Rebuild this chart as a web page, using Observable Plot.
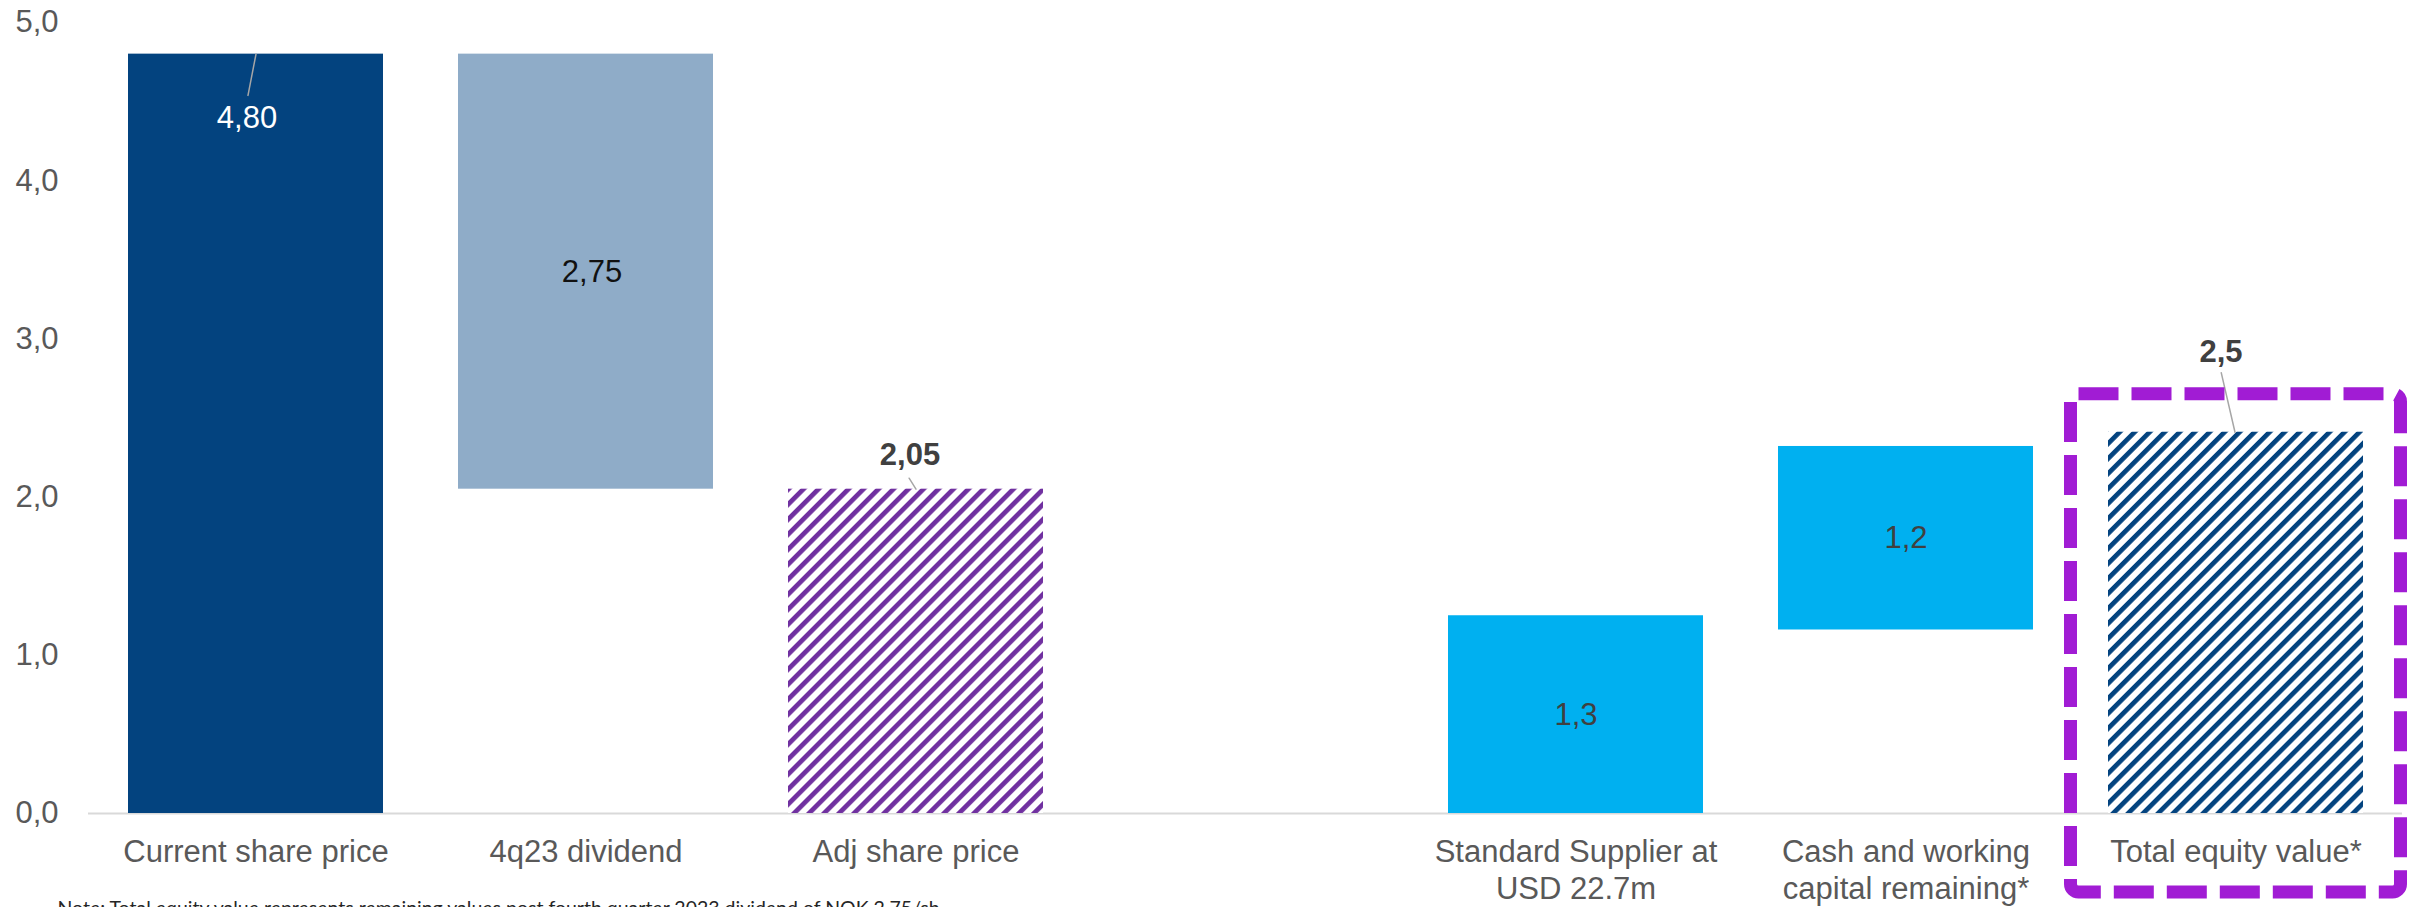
<!DOCTYPE html>
<html>
<head>
<meta charset="utf-8">
<script src="https://cdn.jsdelivr.net/npm/d3@7"></script>
<script src="https://cdn.jsdelivr.net/npm/@observablehq/plot@0.6"></script>
<style>
  html, body { margin: 0; padding: 0; background: #ffffff; }
  svg { overflow: visible; }
</style>
</head>
<body>
<div id="chart"></div>
<script>
// ---- data ----
const categories = [
  "Current share price",
  "4q23 dividend",
  "Adj share price",
  "",
  "Standard Supplier at\nUSD 22.7m",
  "Cash and working\ncapital remaining*",
  "Total equity value*"
];
const barCategories = [
  "Current share price",
  "4q23 dividend",
  "Adj share price",
  "Standard Supplier at\nUSD 22.7m",
  "Cash and working\ncapital remaining*",
  "Total equity value*"
];
const barStarts = [0, 2.05, 0, 0, 1.16, 0];
const barEnds   = [4.80, 4.80, 2.05, 1.25, 2.32, 2.41];
const barLabels = ["4,80", "2,75", "2,05", "1,3", "1,2", "2,5"];
const yTicks = [0, 1, 2, 3, 4, 5];
const yTickLabels = ["0,0", "1,0", "2,0", "3,0", "4,0", "5,0"];
const highlightCategory = "Total equity value*";
const highlightSpan = [-0.5, 2.65];
const noteText = "Note: Total equity value represents remaining values post fourth quarter 2023 dividend of NOK 2.75/sh";

// ---- styles ----
const FONT = "'Liberation Sans', Arial, sans-serif";
const barFills = ["#03437F", "#8FACC8", "url(#hatchPurple)", "#00B0F0", "#00B0F0", "url(#hatchNavy)"];
// label placement: anchor at bar "top" or "mid", pixel offsets
const labelStyle = [
  {at: "top", dx: -9, dy: 64, fill: "#ffffff", weight: "normal"},
  {at: "mid", dx: 6, dy: 0, fill: "#111111", weight: "normal"},
  {at: "top", dx: -6, dy: -34, fill: "#404040", weight: "bold"},
  {at: "mid", dx: 0, dy: 0, fill: "#404040", weight: "normal"},
  {at: "mid", dx: 0, dy: 0, fill: "#404040", weight: "normal"},
  {at: "top", dx: -15, dy: -80, fill: "#404040", weight: "bold"}
];
// leader lines from bar tops (index, rotate deg, length px, dx)
const leaderStyle = [
  {i: 0, rotate: 191, length: 42, dx: 0},
  {i: 2, rotate: -32, length: 13, dx: 0},
  {i: 5, rotate: -13, length: 61, dx: -1}
];

const bars = barCategories.map((c, i) => ({cat: c, y1: barStarts[i], y2: barEnds[i], fill: barFills[i]}));
const labels = barCategories.map((c, i) => {
  const s = labelStyle[i];
  return {cat: c, text: barLabels[i], y: s.at === "top" ? barEnds[i] : (barStarts[i] + barEnds[i]) / 2, ...s};
});

const lineShape = {draw(context, l) { context.moveTo(0, 0); context.lineTo(0, -l); }};

const marks = [
  Plot.ruleY([0], {stroke: "#D9D9D9", strokeWidth: 2}),
  Plot.barY(bars, {x: "cat", y1: "y1", y2: "y2", fill: d => d.fill}),
  ...leaderStyle.map(s => Plot.vector([bars[s.i]], {
    x: "cat", y: "y2", rotate: s.rotate, length: s.length, anchor: "start",
    shape: lineShape, r: 0, stroke: "#A6A6A6", strokeWidth: 1.5, dx: s.dx
  })),
  ...labels.map(l => Plot.text([l], {
    x: "cat", y: "y", text: "text", dx: l.dx, dy: l.dy, fill: l.fill,
    fontWeight: l.weight, fontSize: 31, fontFamily: FONT
  })),
  // y tick labels
  Plot.text(yTicks, {
    y: d => d, text: (d, i) => yTickLabels[i], frameAnchor: "left", textAnchor: "end",
    dx: -30, fontSize: 31, fill: "#595959", fontFamily: FONT
  }),
  // category labels
  Plot.text(barCategories, {
    x: d => d, text: d => d, frameAnchor: "bottom", lineAnchor: "top", dy: 22,
    fontSize: 31, lineHeight: 1.2, fill: "#595959", fontFamily: FONT
  }),
  // highlight box
  Plot.barY([highlightCategory], {
    x: d => d, y1: highlightSpan[0], y2: highlightSpan[1],
    insetLeft: -37.5, insetRight: -37.5, fill: "none", stroke: "#A11CD4",
    strokeWidth: 13, strokeDasharray: "40 13", rx: 8
  }),
  // note
  Plot.text([noteText], {
    text: d => d, frameAnchor: "bottom-left", textAnchor: "start", lineAnchor: "top",
    dx: -31, dy: 88, fontSize: 19.5, fill: "#262626", fontFamily: "Lato, 'Open Sans', sans-serif"
  })
];

const chart = Plot.plot({
  width: 2417,
  height: 907,
  marginTop: 22,
  marginBottom: 94,
  marginLeft: 88,
  marginRight: 15,
  style: {fontFamily: FONT, background: "#ffffff", overflow: "visible"},
  x: {type: "band", domain: categories, paddingInner: 0.228, paddingOuter: 0.114, axis: null},
  y: {domain: [0, 5], axis: null},
  marks
});

const svg = chart.tagName.toLowerCase() === "svg" ? chart : chart.querySelector("svg");
const defs = d3.select(svg).insert("defs", ":first-child");
function hatch(id, color) {
  const size = 10.6;
  const p = defs.append("pattern")
    .attr("id", id)
    .attr("patternUnits", "userSpaceOnUse")
    .attr("width", size).attr("height", size)
    .attr("patternTransform", "rotate(45)");
  p.append("rect").attr("width", size).attr("height", size).attr("fill", "#ffffff");
  p.append("rect").attr("x", 0).attr("width", 4.7).attr("height", size).attr("fill", color);
}
hatch("hatchPurple", "#7030A0");
hatch("hatchNavy", "#03437F");

document.getElementById("chart").appendChild(chart);
</script>
</body>
</html>
